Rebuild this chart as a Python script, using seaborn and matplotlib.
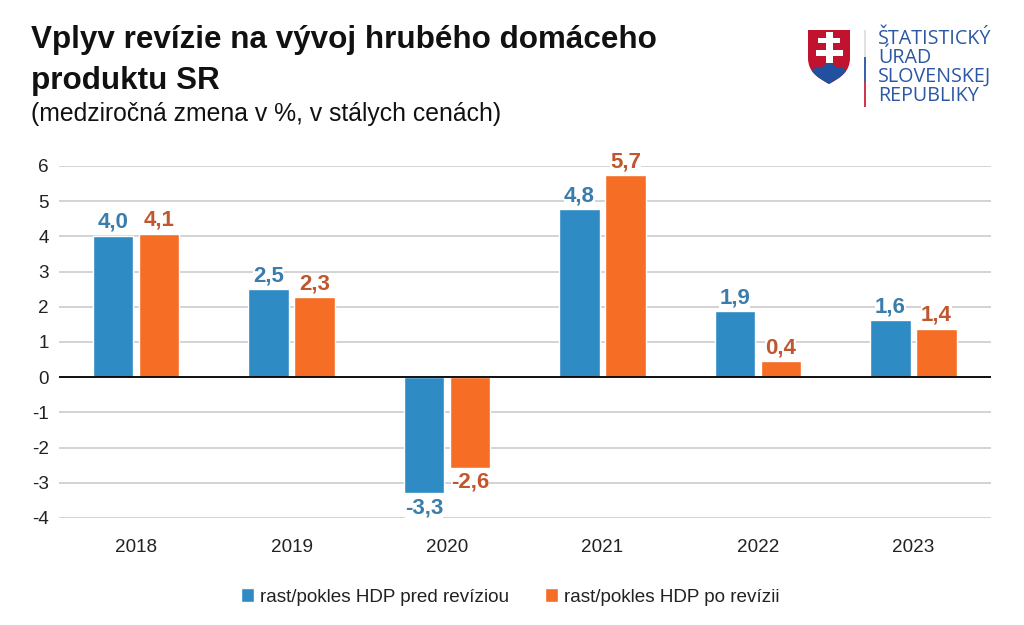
import matplotlib
matplotlib.use("Agg")
import matplotlib.pyplot as plt
from matplotlib.patches import PathPatch, Rectangle
from matplotlib.path import Path
import pandas as pd
import seaborn as sns

years = ["2018", "2019", "2020", "2021", "2022", "2023"]
pred_values = [4.02, 2.5, -3.3, 4.77, 1.88, 1.62]
po_values = [4.08, 2.27, -2.57, 5.74, 0.45, 1.38]
pred_labels = ["4,0", "2,5", "-3,3", "4,8", "1,9", "1,6"]
po_labels = ["4,1", "2,3", "-2,6", "5,7", "0,4", "1,4"]
series_names = ["rast/pokles HDP pred revíziou", "rast/pokles HDP po revízii"]
y_ticks = [-4, -3, -2, -1, 0, 1, 2, 3, 4, 5, 6]

W, H = 1024, 625
BLUE = "#2e8bc4"
ORANGE = "#f66d26"
BLUE_TEXT = "#3a7cab"
ORANGE_TEXT = "#c0562e"
LOGO_BLUE = "#2b57a3"

sns.set_theme(style="white")
plt.rcParams["font.family"] = ["Liberation Sans", "DejaVu Sans"]


def add_logo(fig):
    # logo in pixel coordinates of the figure
    ax = fig.add_axes([0, 0, 1, 1], zorder=5)
    ax.set_xlim(0, W)
    ax.set_ylim(H, 0)
    ax.axis("off")
    ax.patch.set_alpha(0)

    C = Path.CURVE4
    L = Path.LINETO
    M = Path.MOVETO
    shield = Path(
        [(808, 30), (850, 30), (850, 58), (850, 72), (840, 78), (829, 84),
         (818, 78), (808, 72), (808, 58), (808, 30)],
        [M, L, L, C, C, C, C, C, C, L],
    )
    ax.add_patch(PathPatch(shield, facecolor="#c11230", edgecolor="none"))
    hills = Path(
        [(812, 71), (815, 66), (820, 66), (822, 68), (824, 62), (834, 62), (836, 68),
         (838, 66), (843, 66), (846, 71), (841, 78), (835, 80), (829, 84),
         (823, 80), (817, 78), (812, 71)],
        [M] + [C] * 15,
    )
    ax.add_patch(PathPatch(hills, facecolor="#21509f", edgecolor="none"))
    ax.add_patch(Rectangle((825.5, 32), 7, 31, facecolor="white", edgecolor="none"))
    ax.add_patch(Rectangle((818, 38), 22, 5, facecolor="white", edgecolor="none"))
    ax.add_patch(Rectangle((816, 50), 27, 6, facecolor="white", edgecolor="none"))

    ax.add_patch(Rectangle((864, 30), 1.6, 27, facecolor="#e2e2e2", edgecolor="none"))
    ax.add_patch(Rectangle((864, 57), 1.6, 25, facecolor="#3b62ad", edgecolor="none"))
    ax.add_patch(Rectangle((864, 82), 1.6, 25, facecolor="#d0374a", edgecolor="none"))

    logo_lines = ["ŠTATISTICKÝ", "ÚRAD", "SLOVENSKEJ", "REPUBLIKY"]
    for i, line in enumerate(logo_lines):
        ax.text(878, 38.5 + i * 19.3, line, fontsize=14.2, color=LOGO_BLUE,
                family="Open Sans", va="center", ha="left")


def main():
    df = pd.DataFrame({
        "Rok": years * 2,
        "Zmena": pred_values + po_values,
        "Seria": [series_names[0]] * 6 + [series_names[1]] * 6,
    })

    fig = plt.figure(figsize=(W / 100, H / 100), dpi=100, facecolor="white")
    ax = fig.add_axes([58.5 / W, 1 - 518 / H, (991 - 58.5) / W, (518 - 166) / H])

    sns.barplot(data=df, x="Rok", y="Zmena", hue="Seria", ax=ax, width=0.592, gap=0.12,
                palette=[BLUE, ORANGE], saturation=1, legend=True, zorder=3)

    ax.set_xlim(-0.5, 5.5)
    ax.set_ylim(-4, 6)
    ax.set_yticks(y_ticks)
    ax.set_yticklabels([str(t) for t in y_ticks])
    ax.set_xlabel("")
    ax.set_ylabel("")
    ax.grid(axis="y", color="#cccccc", linewidth=1.2, zorder=0)
    ax.set_axisbelow(True)
    sns.despine(ax=ax, left=True, bottom=True)
    ax.axhline(0, color="black", linewidth=1.3, zorder=6)
    ax.tick_params(axis="both", length=0, labelsize=13.6, colors="#222222")
    ax.tick_params(axis="y", pad=7)
    ax.tick_params(axis="x", pad=15)

    for container, labels, col in zip(ax.containers, [pred_labels, po_labels],
                                      [BLUE_TEXT, ORANGE_TEXT]):
        for bar, lab in zip(container, labels):
            neg = bar.get_height() < 0
            ax.annotate(lab, (bar.get_x() + bar.get_width() / 2, bar.get_height()),
                        xytext=(0, -3 if neg else 2), textcoords="offset points",
                        ha="center", va="top" if neg else "bottom",
                        fontsize=16, fontweight="bold", color=col, zorder=7,
                        bbox=dict(facecolor="white", edgecolor="none", pad=0))

    handles, labels = ax.get_legend_handles_labels()
    ax.legend(handles, labels, loc="center", bbox_to_anchor=(510.5 / W, 1 - 597 / H),
              bbox_transform=fig.transFigure, ncol=2, frameon=False, fontsize=13.6,
              handlelength=0.69, handleheight=0.69, handletextpad=0.32, columnspacing=1.9,
              labelcolor="#222222")

    fig.text(31 / W, 1 - 40 / H, "Vplyv revízie na vývoj hrubého domáceho", fontsize=22.6,
             fontweight="bold", color="#111111", va="center", ha="left")
    fig.text(31 / W, 1 - 81 / H, "produktu SR", fontsize=22.6, fontweight="bold",
             color="#111111", va="center", ha="left")
    fig.text(31 / W, 1 - 114 / H, "(medziročná zmena v %, v stálych cenách)", fontsize=17.8,
             color="#111111", va="center", ha="left")

    add_logo(fig)
    fig.savefig("out.png", dpi=100, facecolor="white")


if __name__ == "__main__":
    main()
